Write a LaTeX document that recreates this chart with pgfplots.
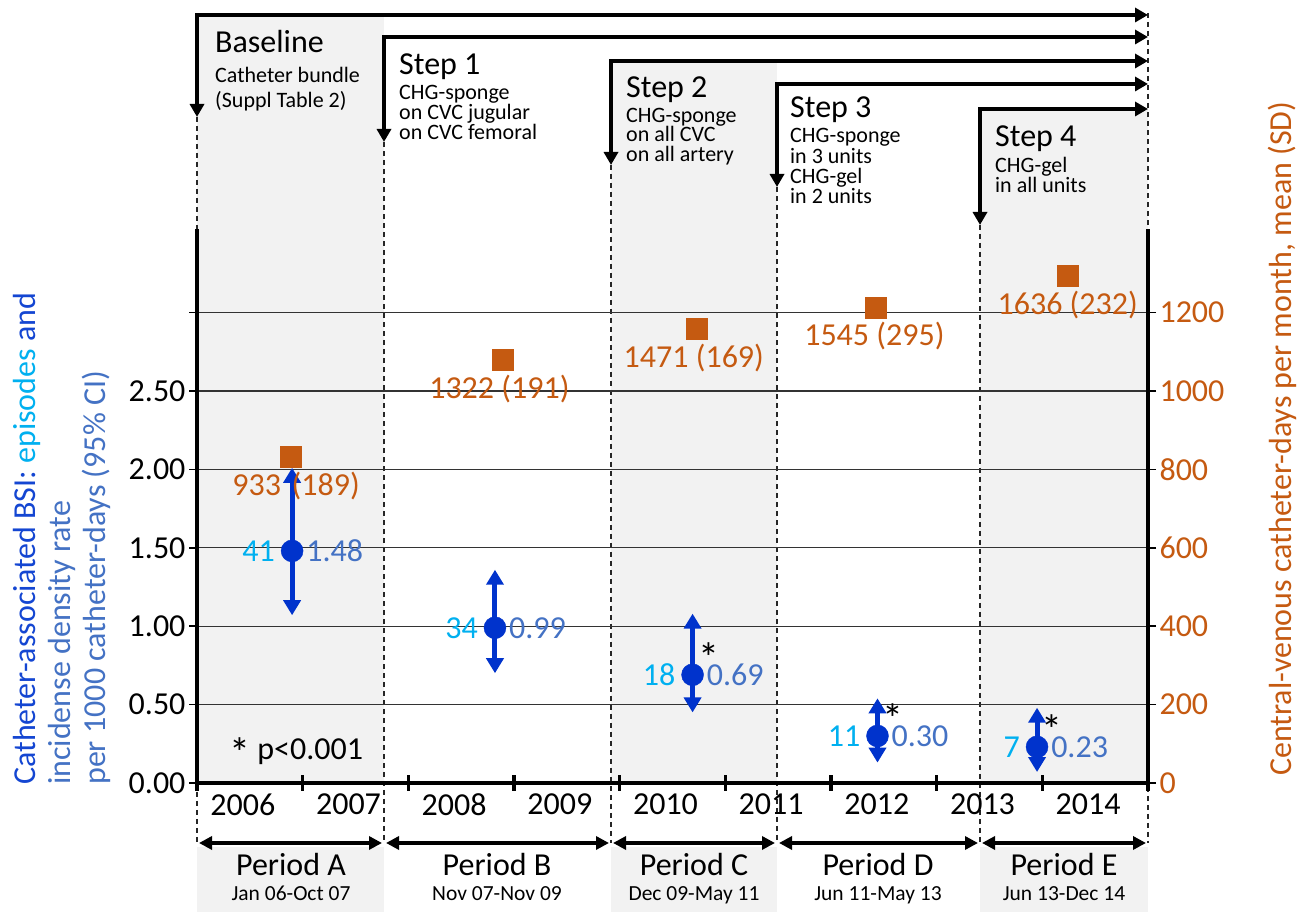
\documentclass[border=0pt]{standalone}
\usepackage{pgfplots}
\pgfplotsset{compat=1.18}
\usepackage{pgfplotstable}
\usepackage{fontspec}
\setmainfont{Carlito}
\usetikzlibrary{arrows.meta}

\definecolor{cblue}{RGB}{0,51,204}
\definecolor{ccyan}{RGB}{0,176,240}
\definecolor{clblue}{RGB}{68,114,196}
\definecolor{corange}{RGB}{197,90,17}
\definecolor{cgray}{RGB}{242,242,242}
\definecolor{ctitle}{RGB}{20,70,210}

\newcommand\fbig{\fontsize{32}{35}\selectfont}
\newcommand\fmid{\fontsize{22}{22}\selectfont}
\newcommand\fsm{\fontsize{21.5}{24}\selectfont}
\newcommand\fast{\fontsize{42}{42}\selectfont}
\newcommand\tl[3]{\node[anchor=base west,inner sep=0pt] at (#1,#2) {#3};}

% catheter-associated BSI: x (decimal year), rate, 95% CI, episodes
\pgfplotstableread{
x       y     lo    hi    dlo    dhi    n
2006.90 1.48  1.07  2.01  -0.41  0.53  41
2008.82 0.99  0.70  1.36  -0.29  0.37  34
2010.69 0.69  0.45  1.08  -0.24  0.39  18
2012.44 0.30  0.13  0.54  -0.17  0.24  11
2013.95 0.23  0.07  0.48  -0.16  0.25  7
}\bsi

% central-venous catheter-days per month (plotted position, mean, SD)
\pgfplotstableread{
x        y     m     sd
2006.89  832   933   189
2008.89  1080  1322  191
2010.73  1159  1471  169
2012.42  1213  1545  295
2014.24  1294  1636  232
}\cvc

\begin{document}
\begin{tikzpicture}[x=1pt,y=1pt]
\fill[white] (0,0) rectangle (1304,912);
\useasboundingbox (0,0) rectangle (1304,912);

% shaded periods
\fill[cgray] (197,129) rectangle (384,895);
\fill[cgray] (611,129) rectangle (777,851);
\fill[cgray] (980,129) rectangle (1148,803);
\fill[cgray] (197,0) rectangle (384,65);
\fill[cgray] (611,0) rectangle (777,65);
\fill[cgray] (980,0) rectangle (1148,65);

% dashed separators
\begin{scope}[black!85, line width=1.3pt, dash pattern=on 5pt off 4pt]
\draw (197,795) -- (197,682);
\draw (197,129) -- (197,69);
\draw (384,770) -- (384,69);
\draw (611,747) -- (611,69);
\draw (777,725) -- (777,69);
\draw (980,687) -- (980,69);
\draw (1148,899) -- (1148,69);
\end{scope}

\begin{axis}[
  at={(197pt,129pt)}, anchor=south west,
  scale only axis, width=951pt, height=554pt,
  xmin=2006, xmax=2015, ymin=0, ymax=3.533,
  axis x line*=bottom, axis y line*=left,
  axis line style={line width=4pt, -},
  every outer x axis line/.append style={-},
  every outer y axis line/.append style={-},
  xtick={2006.5,2007.5,2008.5,2009.5,2010.5,2011.5,2012.5,2013.5,2014.5},
  xticklabels={2006,2007,2008,2009,2010,2011,2012,2013,2014},
  xticklabel style={xshift=-7pt, yshift=-3pt},
  major x tick style={draw=none},
  minor xtick={2006,2007,2008,2009,2010,2011,2012,2013,2014,2015},
  minor x tick style={line width=3.5pt, black},
  xtick align=center,
  minor tick length=16pt,
  ytick={0,0.5,1,1.5,2,2.5,3},
  yticklabels={0.00,0.50,1.00,1.50,2.00,2.50,{}},
  ytick align=outside, ytick pos=left, major tick length=8pt,
  y tick style={line width=1.5pt, black},
  ymajorgrids, grid style={line width=1.3pt, black!80},
  tick label style={font=\fbig, black},
  clip=false,
]
\addplot[cblue, line width=5pt, no markers, quiver={u=0, v=\thisrow{dhi}},
  -{Triangle[length=15pt,width=17pt]}] table[x=x,y=y] {\bsi};
\addplot[cblue, line width=5pt, no markers, quiver={u=0, v=\thisrow{dlo}},
  -{Triangle[length=15pt,width=17pt]}] table[x=x,y=y] {\bsi};
\addplot[only marks, mark=*, mark size=11pt, cblue] table[x=x,y=y] {\bsi};

\begin{scope}[font=\fbig, inner sep=0pt]
\node[anchor=east, text=ccyan, xshift=-17pt] at (axis cs:2006.90,1.48) {41};
\node[anchor=east, text=ccyan, xshift=-17pt] at (axis cs:2008.82,0.99) {34};
\node[anchor=east, text=ccyan, xshift=-17pt] at (axis cs:2010.69,0.69) {18};
\node[anchor=east, text=ccyan, xshift=-17pt] at (axis cs:2012.44,0.30) {11};
\node[anchor=east, text=ccyan, xshift=-17pt] at (axis cs:2013.95,0.23) {7};
\node[anchor=west, text=clblue, xshift=14pt] at (axis cs:2006.90,1.48) {1.48};
\node[anchor=west, text=clblue, xshift=14pt] at (axis cs:2008.82,0.99) {0.99};
\node[anchor=west, text=clblue, xshift=14pt] at (axis cs:2010.69,0.69) {0.69};
\node[anchor=west, text=clblue, xshift=14pt] at (axis cs:2012.44,0.30) {0.30};
\node[anchor=west, text=clblue, xshift=14pt] at (axis cs:2013.95,0.23) {0.23};
\end{scope}
\begin{scope}[font=\fast, inner sep=0pt]
\node[anchor=base, xshift=16pt, yshift=2pt] at (axis cs:2010.69,0.69) {*};
\node[anchor=base, xshift=15pt, yshift=2pt] at (axis cs:2012.44,0.30) {*};
\node[anchor=base, xshift=15pt, yshift=2pt] at (axis cs:2013.95,0.23) {*};
\end{scope}
\end{axis}

\begin{axis}[
  at={(197pt,129pt)}, anchor=south west,
  scale only axis, width=951pt, height=554pt,
  xmin=2006, xmax=2015, ymin=0, ymax=1413.2,
  axis x line=none, axis y line*=right,
  axis line style={line width=4pt, -},
  every outer y axis line/.append style={-},
  ytick={0,200,400,600,800,1000,1200},
  yticklabels={0,200,400,600,800,1000,1200},
  ytick align=outside, ytick pos=right, major tick length=8pt,
  y tick style={line width=1.5pt, black},
  tick label style={font=\fbig},
  yticklabel style={text=corange},
  clip=false,
]
\addplot[only marks, mark=square*, mark size=10.5pt, corange] table[x=x,y=y] {\cvc};
\begin{scope}[font=\fbig, inner sep=0pt, text=corange]
\node[xshift=5pt, yshift=-29pt] at (axis cs:2006.89,832) {933\,\,(189)};
\node[xshift=-3pt, yshift=-29pt] at (axis cs:2008.89,1080) {1322 (191)};
\node[xshift=-3pt, yshift=-29pt] at (axis cs:2010.73,1159) {1471 (169)};
\node[xshift=-1pt, yshift=-29pt] at (axis cs:2012.42,1213) {1545 (295)};
\node[xshift=0pt, yshift=-29pt] at (axis cs:2014.24,1294) {1636 (232)};
\end{scope}
\end{axis}

% step arrows
\begin{scope}[line width=4pt, {Triangle[length=13pt,width=14pt]}-{Triangle[length=13pt,width=14pt]}]
\draw (197,795) -- (197,897) -- (1148,897);
\draw (384,770) -- (384,875) -- (1148,875);
\draw (611,747) -- (611,851) -- (1148,851);
\draw (777,725) -- (777,828) -- (1148,828);
\draw (980,687) -- (980,803) -- (1148,803);
\end{scope}

% step texts
\begin{scope}[font=\fbig]
\tl{215}{859}{Baseline}
\tl{399}{837}{Step 1}
\tl{626}{814}{Step 2}
\tl{790}{794}{Step 3}
\tl{995}{765}{Step 4}
\end{scope}
\begin{scope}[font=\fmid]
\tl{215}{829}{Catheter bundle}
\tl{215}{804}{(Suppl Table 2)}
\tl{399}{812}{CHG-sponge}
\tl{399}{792}{on CVC jugular}
\tl{399}{772}{on CVC femoral}
\tl{626}{789}{CHG-sponge}
\tl{626}{770}{on all CVC}
\tl{626}{750}{on all artery}
\tl{790}{769}{CHG-sponge}
\tl{790}{748}{in 3 units}
\tl{790}{728}{CHG-gel}
\tl{790}{708}{in 2 units}
\tl{995}{739}{CHG-gel}
\tl{995}{719}{in all units}
\end{scope}

\node[anchor=base west, inner sep=0pt, font=\fbig] at (229,152) {\raisebox{-8pt}{\fast *} p<0.001};

% period arrows
\begin{scope}[line width=3.5pt, {Triangle[length=13pt,width=13pt]}-{Triangle[length=13pt,width=13pt]}]
\draw (199,69) -- (382,69);
\draw (386,69) -- (609,69);
\draw (613,69) -- (775,69);
\draw (779,69) -- (978,69);
\draw (982,69) -- (1146,69);
\end{scope}
\begin{scope}[font=\fbig, inner sep=0pt]
\node[anchor=base] at (291,36) {Period A};
\node[anchor=base] at (497,36) {Period B};
\node[anchor=base] at (694,36) {Period C};
\node[anchor=base] at (878,36) {Period D};
\node[anchor=base] at (1064,36) {Period E};
\end{scope}
\begin{scope}[font=\fsm, inner sep=0pt]
\node[anchor=base] at (291,11) {Jan 06-Oct 07};
\node[anchor=base] at (497,11) {Nov 07-Nov 09};
\node[anchor=base] at (694,11) {Dec 09-May 11};
\node[anchor=base] at (878,11) {Jun 11-May 13};
\node[anchor=base] at (1064,11) {Jun 13-Dec 14};
\end{scope}

% axis titles
\node[rotate=90, anchor=north west, inner sep=0pt, align=left, font=\fbig] at (13,127)
  {{\color{ctitle}Catheter-associated BSI:} {\color{ccyan}episodes} {\color{ctitle}and}\\
   {\color{clblue}incidense density rate}\\
   {\color{clblue}per 1000 catheter-days (95\% CI)}};
\node[rotate=90, anchor=north west, inner sep=0pt, font=\fbig, text=corange] at (1268,136)
  {Central-venous catheter-days per month, mean (SD)};
\end{tikzpicture}
\end{document}
